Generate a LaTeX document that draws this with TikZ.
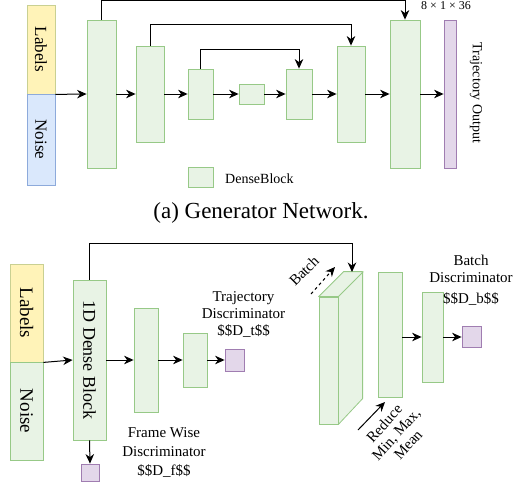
\documentclass[tikz,border=0pt]{standalone}
\usepackage{fontspec}
\setmainfont{Liberation Serif}
\usepackage{xcolor}
\usetikzlibrary{arrows.meta}

\begin{document}
\begin{tikzpicture}[x=1pt,y=-1pt,
  block/.style={rectangle,draw=blockline,fill=blockfill,line width=0.8pt,inner sep=0},
  outbox/.style={rectangle,draw=outline,fill=outfill,line width=0.8pt,inner sep=0},
  arr/.style={-{Stealth[length=9.5pt,width=8.5pt,inset=3pt]},line width=1pt},
  txt/.style={font=\fontsize{15}{17}\selectfont,align=center}]
\definecolor{blockfill}{HTML}{E8F3E5}
\definecolor{blockline}{HTML}{97C987}
\definecolor{outfill}{HTML}{E3D7EA}
\definecolor{outline}{HTML}{A07DB1}
\definecolor{labfill}{HTML}{FFF3B8}
\definecolor{labline}{HTML}{C9D092}
\definecolor{noisefill}{HTML}{DAE8FC}
\definecolor{noiseline}{HTML}{8DAADB}
\useasboundingbox[fill=white] (0,0) rectangle (515,482);
% generator network
\node[rectangle,draw=labline,fill=labfill,line width=0.8pt,minimum width=28,minimum height=89] (glab) at (41,49.5)
  {\rotatebox{-90}{\fontsize{17}{17}\selectfont Labels}};
\node[rectangle,draw=noiseline,fill=noisefill,line width=0.8pt,minimum width=28,minimum height=91] (gnoise) at (41,139.5)
  {\rotatebox{-90}{\fontsize{17}{17}\selectfont Noise}};
\foreach \nm/\xx/\ww/\hh in {g1/101.5/29/148,g2/150/28/96,g3/200.5/25/50,g4/251.5/25/20,g5/299/26/50,g6/351/28/96,g7/405/30/148}
  {\node[block,minimum width=\ww,minimum height=\hh] (\nm) at (\xx,94) {};}
\node[outbox,minimum width=12,minimum height=148] (gout) at (450,94) {};
\node[rotate=-90,font=\fontsize{14}{14}\selectfont] (gouttxt) at (476,93) {Trajectory Output};
\node[font=\fontsize{12}{12}\selectfont,inner sep=1pt] (gsize) at (446,6) {8 × 1 × 36};
\draw[arr] (glab.south east) -- (g1.west);
\draw[arr] (g1) -- (g2);
\draw[arr] (g2) -- (g3);
\draw[arr] (g3) -- (g4);
\draw[arr] (g4) -- (g5);
\draw[arr] (g5) -- (g6);
\draw[arr] (g6) -- (g7);
\draw[arr] (g7) -- (gout);
\draw[arr] (g1.north) -- ++(0,-19.5) -| (g7.north);
\draw[arr] (g2.north) -- ++(0,-21) -| (g6.north);
\draw[arr] (g3.north) -- ++(0,-19) -| (g5.north);
\node[block,minimum width=25,minimum height=20] (legbox) at (200.5,177) {};
\node[anchor=west,font=\fontsize{14}{14}\selectfont,inner sep=0] (legtxt) at (225,179) {DenseBlock};
\node[font=\fontsize{23}{23}\selectfont] (capa) at (261,213) {(a) Generator Network.};
% discriminator network
\node[rectangle,draw=labline,fill=labfill,line width=0.8pt,minimum width=33,minimum height=98] (dlab) at (26.5,313)
  {\rotatebox{-90}{\fontsize{19}{19}\selectfont Labels}};
\node[block,minimum width=33,minimum height=98] (dnoise) at (26.5,411)
  {\rotatebox{-90}{\fontsize{19}{19}\selectfont Noise}};
\node[block,minimum width=33,minimum height=160] (d1) at (89.5,360)
  {\rotatebox{-90}{\fontsize{18}{18}\selectfont 1D Dense Block}};
\node[outbox,minimum width=18,minimum height=17] (pf) at (90,472.5) {};
\node[block,minimum width=24,minimum height=104] (f1) at (146,360) {};
\node[block,minimum width=24,minimum height=54] (f2) at (195,360) {};
\node[outbox,minimum width=19,minimum height=22] (pt) at (234.5,360) {};
\node[txt] (ttxt) at (243.5,314) {Trajectory\\Discriminator\\\$\$D\_t\$\$};
\node[txt,font=\fontsize{15}{19}\selectfont] (ftxt) at (164,452) {Frame Wise\\Discriminator\\\$\$D\_f\$\$};
\draw[arr] (dlab.south east) -- (d1.west);
\draw[arr] (d1) -- (f1);
\draw[arr] (f1) -- (f2);
\draw[arr] (f2) -- (pt);
\draw[arr] (d1.south) -- (pf.north);
% batch block
\node[block,minimum width=19,minimum height=127] (bt) at (328.5,360.5) {};
\filldraw[draw=blockline,fill=blockfill,line width=0.8pt,line join=round]
  (bt.north west) -- ++(25,-25) -- ++(19,0) -- ++(0,127) -- (bt.south east) -- (bt.north east) -- cycle
  (bt.north east) -- ++(25,-25);
\coordinate (btop) at (352,272);
\draw[arr] (d1.north) -- ++(0,-36) -| (btop);
\coordinate (bs) at (311,294);
\coordinate (be) at (335,267);
\draw[arr,dashed] (bs) -- (be);
\node[rotate=45,font=\fontsize{15}{15}\selectfont,inner sep=1pt] (btxt) at (304,271) {Batch};
\node[block,minimum width=24,minimum height=125] (red) at (390,335) {};
\node[block,minimum width=21,minimum height=90] (bd) at (432.5,337) {};
\node[outbox,minimum width=19,minimum height=21] (pb) at (471.5,337) {};
\draw[arr] (red.east |- bd) -- (bd);
\draw[arr] (bd) -- (pb);
\node[txt] (bdtxt) at (471,280) {Batch\\Discriminator\\[4pt]\$\$D\_b\$\$};
\coordinate (rs) at (358,430);
\coordinate (re) at (385,402);
\draw[arr] (rs) -- (re);
\node[rotate=48,txt,font=\fontsize{15}{16}\selectfont,inner sep=1pt] (rtxt) at (396,434) {Reduce\\Min, Max,\\Mean};
\end{tikzpicture}
\end{document}
